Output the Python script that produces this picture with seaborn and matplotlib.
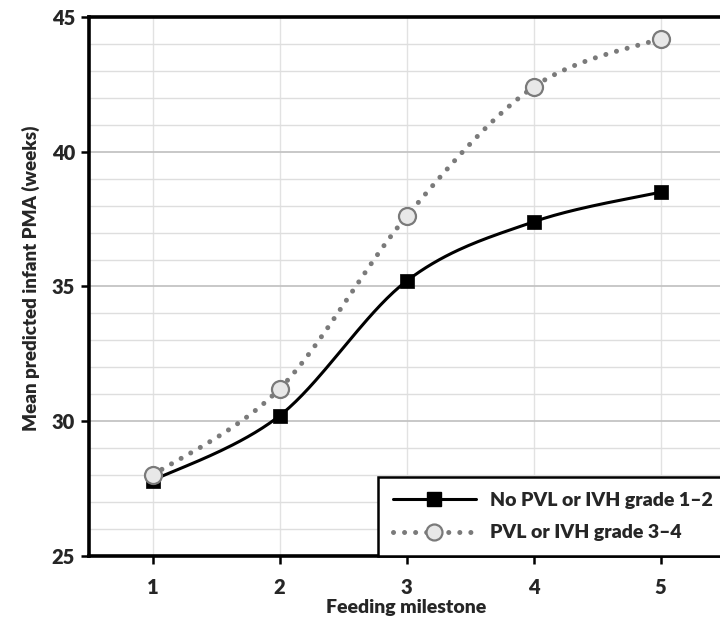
import numpy as np
import pandas as pd
import seaborn as sns
import matplotlib.pyplot as plt
from matplotlib.lines import Line2D
from matplotlib.ticker import MultipleLocator

milestones = [1, 2, 3, 4, 5]
no_pvl = [27.8, 30.2, 35.2, 37.4, 38.5]
pvl = [28.0, 31.2, 37.6, 42.4, 44.2]
labels = ["No PVL or IVH grade 1\u20132", "PVL or IVH grade 3\u20134"]


def smooth(xs, ys, n=40):
    # Excel-like smoothed line (Catmull-Rom style cubic Bezier segments)
    p = np.column_stack([xs, ys]).astype(float)
    p = np.vstack([p[0], p, p[-1]])
    out = []
    for i in range(1, len(p) - 2):
        p0, p1, p2, p3 = p[i - 1], p[i], p[i + 1], p[i + 2]
        c1 = p1 + (p2 - p0) / 6
        c2 = p2 - (p3 - p1) / 6
        t = np.linspace(0, 1, n)[:, None]
        seg = ((1 - t) ** 3) * p1 + 3 * ((1 - t) ** 2) * t * c1 + 3 * (1 - t) * t ** 2 * c2 + t ** 3 * p2
        out.append(seg if i == 1 else seg[1:])
    out = np.vstack(out)
    return out[:, 0], out[:, 1]


sns.set_style("white")
plt.rcParams['font.family'] = ['Lato', 'DejaVu Sans']
plt.rcParams['font.weight'] = 'heavy'
fw = 'heavy'

fig = plt.figure(figsize=(7.2, 6.19), dpi=100)
ax = fig.add_axes([89 / 720, 1 - 556 / 619, 635 / 720, 539 / 619])

grey = '#7a7a7a'
dot_style = (0, (0.01, 2.2))

sx, sy = smooth(milestones, pvl)
sns.lineplot(x=sx, y=sy, sort=False, ax=ax, color=grey, linewidth=3.6,
             linestyle=dot_style, dash_capstyle='round', zorder=3)
sx, sy = smooth(milestones, no_pvl)
sns.lineplot(x=sx, y=sy, sort=False, ax=ax, color='black', linewidth=2.2, zorder=3)

sns.scatterplot(x=milestones, y=no_pvl, ax=ax, marker='s', s=115, color='black',
                edgecolor='black', linewidth=0.5, zorder=4)
sns.scatterplot(x=milestones, y=pvl, ax=ax, marker='o', s=150, color='#e8e8e8',
                edgecolor=grey, linewidth=1.6, zorder=5)

ax.set_xlim(0.5, 5.5)
ax.set_ylim(25, 45)
ax.xaxis.set_major_locator(MultipleLocator(1))
ax.yaxis.set_major_locator(MultipleLocator(5))
ax.yaxis.set_minor_locator(MultipleLocator(1))

ax.grid(True, which='major', axis='y', color='#c4c4c4', linewidth=1.3, zorder=0)
ax.grid(True, which='minor', axis='y', color='#dedede', linewidth=1.0, zorder=0)
ax.grid(True, which='major', axis='x', color='#e2e2e2', linewidth=1.0, zorder=0)
ax.set_axisbelow(True)

for side in ['left', 'bottom', 'top']:
    ax.spines[side].set_color('black')
    ax.spines[side].set_linewidth(2.6)
ax.spines['right'].set_visible(False)

ax.tick_params(axis='both', which='major', direction='out', length=6, width=1.8,
               labelsize=14.5, pad=4, color='black', left=True, bottom=True)
ax.tick_params(axis='y', which='minor', length=0)
for lab in ax.get_xticklabels() + ax.get_yticklabels():
    lab.set_fontweight(fw)
ax.tick_params(axis='x', pad=10)

ax.set_xlabel("Feeding milestone", fontsize=14, fontweight=fw, labelpad=1)
ax.set_ylabel("Mean predicted infant PMA (weeks)", fontsize=13.5, fontweight=fw)
ax.yaxis.set_label_coords(-0.077, 0.515)

handles = [
    Line2D([], [], color='black', linewidth=2.2, marker='s', markersize=10.5,
           markerfacecolor='black'),
    Line2D([], [], color=grey, linewidth=3.6, linestyle=dot_style, dash_capstyle='round',
           marker='o', markersize=11.5, markerfacecolor='#e8e8e8', markeredgecolor=grey,
           markeredgewidth=1.6),
]
leg = ax.legend(handles, labels, loc='lower left', bbox_to_anchor=(0.455, 0.0),
                frameon=True, fancybox=False, edgecolor='black', framealpha=1,
                borderpad=0.75, handlelength=4.3, handletextpad=0.7, labelspacing=0.8,
                numpoints=1, borderaxespad=0,
                prop={'weight': fw, 'size': 14, 'family': ['Lato', 'DejaVu Sans']})
leg.get_frame().set_linewidth(1.8)
leg.set_zorder(10)

fig.savefig("out.png", dpi=100)
